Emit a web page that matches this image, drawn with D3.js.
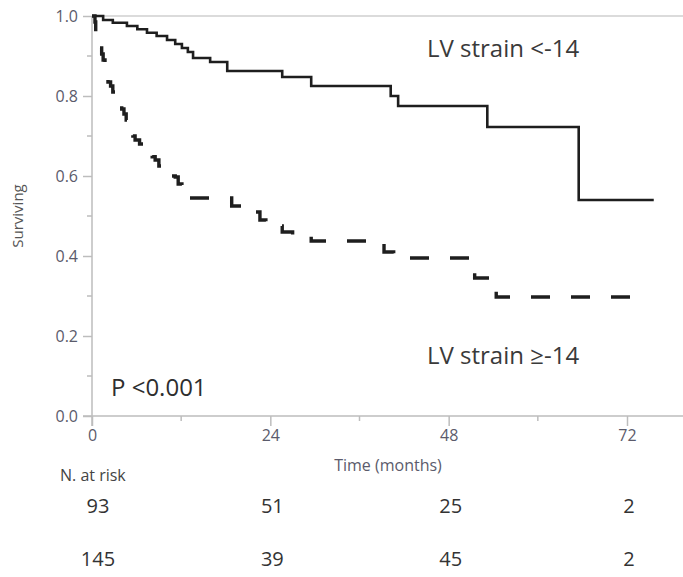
<!DOCTYPE html>
<html>
<head>
<meta charset="UTF-8">
<title>LV strain survival</title>
<style type="text/css">
  body { margin: 0; background: #fff; }
  text { font-family: "Open Sans", sans-serif; }
</style>
</head>
<body>
<script src="https://d3js.org/d3.v7.min.js"></script>
<script>
// survival steps, LV strain <-14 (solid)
var timesA = [0, 1.5, 2.8, 4.7, 6.1, 7.4, 8.7, 10.1, 11.2, 12.1, 12.9, 13.6, 15.9, 18.2, 25.6, 29.5, 40.2, 41.2, 53.2, 65.5, 75.6];
var survA  = [1.0, 0.99, 0.983, 0.975, 0.967, 0.958, 0.95, 0.94, 0.93, 0.92, 0.91, 0.895, 0.885, 0.8625, 0.8475, 0.825, 0.80, 0.775, 0.7225, 0.54, 0.54];

// survival steps, LV strain >=-14 (dashed)
var timesB = [0, 0.4, 0.5, 0.7, 0.9, 1.07, 1.3, 1.5, 1.75, 1.95, 2.15, 2.5, 2.8, 3.1, 3.4, 3.7, 4.0, 4.3, 4.6, 4.85,
              5.2, 5.5, 5.8, 6.4, 7.1, 7.7, 8.1, 8.5, 9.0, 9.55, 10.2, 10.7, 11.2, 11.6, 12.1, 12.6, 13.1,
              18.8, 20.2, 22.6, 23.4, 25.6, 27.0, 29.5, 39.3, 40.6, 51.5, 54.4, 73.6];
var survB  = [1.0, 0.985, 0.96, 0.95, 0.935, 0.92, 0.905, 0.89, 0.8775, 0.86, 0.835, 0.825, 0.81, 0.80, 0.79, 0.78, 0.7675, 0.755, 0.74, 0.725,
              0.71, 0.70, 0.69, 0.68, 0.665, 0.655, 0.648, 0.64, 0.625, 0.61, 0.605, 0.60, 0.5975, 0.58, 0.56, 0.55, 0.545,
              0.525, 0.51, 0.49, 0.475, 0.46, 0.45, 0.4375, 0.41, 0.395, 0.345, 0.2975, 0.2975];

var xTicks = [0, 24, 48, 72];
var xMinor = [12, 36, 60];
var yTicks = [0, 0.2, 0.4, 0.6, 0.8, 1.0];
var yMinor = [0.1, 0.3, 0.5, 0.7, 0.9];

// numbers at risk
var riskA = [93, 51, 25, 2];
var riskB = [145, 39, 45, 2];

var width = 683, height = 577;
var axisColor = "#bdbdbd";
var inkColor = "#1e1e1e";
var tickTextColor = "#5b5b6b";

var svg = d3.select("body").append("svg")
    .attr("width", width)
    .attr("height", height);

var x = d3.scaleLinear().domain([0, 72]).range([92, 627]);
var y = d3.scaleLinear().domain([0, 1]).range([416, 16]);

// frame: top line and axis lines
svg.append("line")
    .attr("x1", x(0)).attr("x2", width)
    .attr("y1", y(1)).attr("y2", y(1))
    .style("stroke", "#cfcfcf").style("stroke-width", 1.5);
svg.append("line")
    .attr("x1", x(0) - 9).attr("x2", width)
    .attr("y1", y(0)).attr("y2", y(0))
    .style("stroke", axisColor).style("stroke-width", 1.5);
svg.append("line")
    .attr("x1", x(0)).attr("x2", x(0))
    .attr("y1", y(1)).attr("y2", y(0) + 10)
    .style("stroke", axisColor).style("stroke-width", 1.5);

// y axis
var yAxis = d3.axisLeft(y)
    .tickValues(yTicks)
    .tickSize(9)
    .tickPadding(5)
    .tickFormat(d3.format(".1f"));
var gy = svg.append("g")
    .attr("transform", "translate(" + x(0) + ",0)")
    .call(yAxis);
gy.select(".domain").remove();
gy.selectAll(".tick line").style("stroke", axisColor).style("stroke-width", 1.5);
gy.selectAll(".tick text")
    .style("font-size", "16px")
    .style("fill", tickTextColor);

svg.append("g").selectAll("line")
    .data(yMinor)
  .enter().append("line")
    .attr("x1", x(0) - 5).attr("x2", x(0))
    .attr("y1", function(d) { return y(d); })
    .attr("y2", function(d) { return y(d); })
    .style("stroke", axisColor).style("stroke-width", 1.5);

// x axis
var xAxis = d3.axisBottom(x)
    .tickValues(xTicks)
    .tickSize(10)
    .tickPadding(4)
    .tickFormat(d3.format("d"));
var gx = svg.append("g")
    .attr("transform", "translate(0," + y(0) + ")")
    .call(xAxis);
gx.select(".domain").remove();
gx.selectAll(".tick line").style("stroke", axisColor).style("stroke-width", 1.5);
gx.selectAll(".tick text")
    .style("font-size", "16px")
    .style("fill", tickTextColor);

svg.append("g").selectAll("line")
    .data(xMinor)
  .enter().append("line")
    .attr("x1", function(d) { return x(d); })
    .attr("x2", function(d) { return x(d); })
    .attr("y1", y(0)).attr("y2", y(0) + 5)
    .style("stroke", axisColor).style("stroke-width", 1.5);

// axis titles
svg.append("text")
    .attr("transform", "translate(23," + 216 + ") rotate(-90)")
    .style("text-anchor", "middle")
    .style("font-size", "15px")
    .style("fill", "#555")
    .text("Surviving");

svg.append("text")
    .attr("x", 388).attr("y", 471)
    .style("text-anchor", "middle")
    .style("font-size", "16px")
    .style("fill", tickTextColor)
    .text("Time (months)");

// survival curves
var line = d3.line()
    .x(function(d) { return x(d[0]); })
    .y(function(d) { return y(d[1]); })
    .curve(d3.curveStepAfter);

svg.append("path")
    .datum(d3.zip(timesA, survA))
    .attr("d", line)
    .style("fill", "none")
    .style("stroke", inkColor)
    .style("stroke-width", 2.6);

svg.append("path")
    .datum(d3.zip(timesB, survB))
    .attr("d", line)
    .style("fill", "none")
    .style("stroke", inkColor)
    .style("stroke-width", 3.4)
    .style("stroke-dasharray", "19,21");

// labels inside plot
svg.append("text")
    .attr("x", 427).attr("y", 57)
    .style("font-size", "24px")
    .style("fill", "#3a3a3a")
    .text("LV strain <-14");

svg.append("text")
    .attr("x", 427).attr("y", 364)
    .style("font-size", "24px")
    .style("fill", "#3a3a3a")
    .text("LV strain \u2265-14");

svg.append("text")
    .attr("x", 111).attr("y", 396)
    .style("font-size", "24px")
    .style("fill", "#2e2e2e")
    .text("P <0.001");

// numbers at risk table
svg.append("text")
    .attr("x", 60).attr("y", 481)
    .style("font-size", "16px")
    .style("fill", "#444")
    .text("N. at risk");

svg.append("g").selectAll("text")
    .data(riskA)
  .enter().append("text")
    .attr("x", function(d, i) { return x(xTicks[i]) + (i == 0 ? 6 : 2); })
    .attr("y", 513)
    .style("text-anchor", "middle")
    .style("font-size", "20px")
    .style("fill", "#333")
    .text(function(d) { return d; });

svg.append("g").selectAll("text")
    .data(riskB)
  .enter().append("text")
    .attr("x", function(d, i) { return x(xTicks[i]) + (i == 0 ? 6 : 2); })
    .attr("y", 566)
    .style("text-anchor", "middle")
    .style("font-size", "20px")
    .style("fill", "#333")
    .text(function(d) { return d; });
</script>
</body>
</html>
